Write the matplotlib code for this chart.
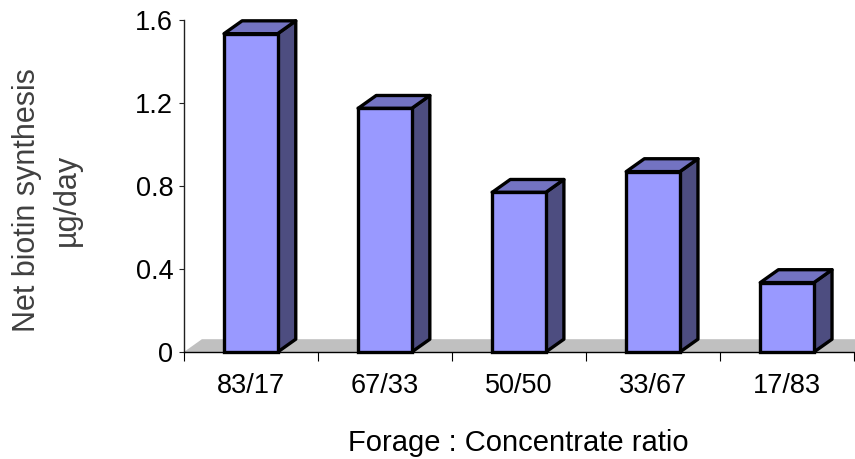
import matplotlib
matplotlib.use("Agg")
import matplotlib.pyplot as plt
from matplotlib.patches import Polygon

categories = ["83/17", "67/33", "50/50", "33/67", "17/83"]
values = [1.535, 1.175, 0.77, 0.87, 0.335]
yticks = [0, 0.4, 0.8, 1.2, 1.6]
ytick_labels = ["0", "0.4", "0.8", "1.2", "1.6"]

plt.rcParams['font.family'] = ['Liberation Sans', 'DejaVu Sans']

fig = plt.figure(figsize=(8.55, 4.59), dpi=100)
ax = fig.add_axes([0.215, 0.233, 0.784, 0.723])
ax.set_xlim(-0.5, len(categories) - 0.5)
ax.set_ylim(0, 1.6)

dx = 0.135   # depth offset in category units
dy = 0.062   # depth offset in value units
w = 0.40

front_c = "#9999ff"
side_c = "#4d4d80"
top_c = "#7373c2"
edge_lw = 2.4

# floor
floor = Polygon([(-0.5, 0), (-0.5 + dx, dy), (len(categories) - 0.5 + dx, dy),
                 (len(categories) - 0.5, 0)], closed=True, facecolor="#c0c0c0",
                edgecolor="none", clip_on=False, zorder=1)
ax.add_patch(floor)

bars = ax.bar(range(len(categories)), values, width=w, color=front_c,
              edgecolor="black", linewidth=edge_lw, zorder=4, clip_on=False)
for i, v in enumerate(values):
    x0, x1 = i - w / 2, i + w / 2
    side = Polygon([(x1, 0), (x1 + dx, dy), (x1 + dx, v + dy), (x1, v)], closed=True,
                   facecolor=side_c, edgecolor="black", linewidth=edge_lw,
                   joinstyle="round", clip_on=False, zorder=3)
    top = Polygon([(x0, v), (x0 + dx, v + dy), (x1 + dx, v + dy), (x1, v)], closed=True,
                  facecolor=top_c, edgecolor="black", linewidth=edge_lw,
                  joinstyle="round", clip_on=False, zorder=3)
    ax.add_patch(side)
    ax.add_patch(top)

for s in ["top", "right"]:
    ax.spines[s].set_visible(False)
ax.spines["left"].set_color("#202020")
ax.spines["left"].set_linewidth(1.0)
ax.spines["bottom"].set_color("black")
ax.spines["bottom"].set_linewidth(1.0)
ax.spines["bottom"].set_zorder(5)

ax.set_yticks(yticks)
ax.set_yticklabels(ytick_labels)
ax.tick_params(axis="y", direction="out", length=3.6, color="#202020", labelsize=19.5, pad=4)

ax.set_xticks([i - 0.5 for i in range(len(categories) + 1)], minor=False)
ax.set_xticklabels([])
ax.set_xticks(range(len(categories)), minor=True)
ax.set_xticklabels(categories, minor=True)
ax.tick_params(axis="x", which="major", direction="out", length=6.5, color="black")
ax.tick_params(axis="x", which="minor", length=0, labelsize=19.5, pad=15)

fig.text(0.606, 0.035, "Forage : Concentrate ratio", ha="center", va="center", fontsize=21)
fig.text(0.032, 0.564, "Net biotin synthesis", rotation=90, ha="center", va="center",
         fontsize=22, color="#404040")
fig.text(0.078, 0.564, "µg/day", rotation=90, ha="center", va="center",
         fontsize=22, color="#404040")

fig.savefig("out.png", dpi=100)
